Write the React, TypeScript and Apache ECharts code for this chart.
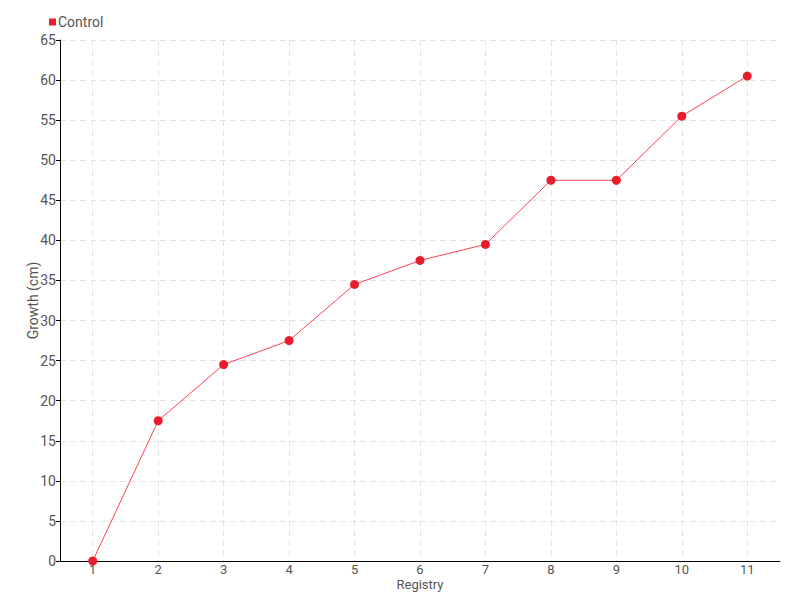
import React, { useEffect, useRef } from "react";
import * as echarts from "echarts";

const categories = ["1", "2", "3", "4", "5", "6", "7", "8", "9", "10", "11"];
const controlValues = [0, 17.5, 24.5, 27.5, 34.5, 37.5, 39.5, 47.5, 47.5, 55.5, 60.5];
const seriesName = "Control";
const xAxisName = "Registry";
const yAxisName = "Growth (cm)";

const FONT = "Roboto, 'Liberation Sans Narrow', sans-serif";

export default function App() {
  const ref = useRef<HTMLDivElement>(null);
  useEffect(() => {
    if (!ref.current) return;
    const chart = echarts.init(ref.current, undefined, { renderer: "svg" });
    chart.setOption({
      animation: false,
      textStyle: { fontFamily: FONT },
      legend: {
        left: 44,
        top: 10,
        itemWidth: 7,
        itemHeight: 7,
        itemGap: 10,
        icon: "rect",
        textStyle: { color: "#555", fontSize: 14, fontFamily: FONT, padding: [0, 0, 0, -3] },
        data: [seriesName],
      },
      grid: { left: 60, right: 20, top: 40, bottom: 39 },
      xAxis: {
        type: "category",
        data: categories,
        boundaryGap: true,
        name: xAxisName,
        nameLocation: "middle",
        nameGap: 17,
        nameMoveOverlap: false,
        nameTextStyle: { color: "#555", fontSize: 13, fontFamily: FONT },
        axisLine: { lineStyle: { color: "#000", width: 1 } },
        axisTick: { alignWithLabel: true, length: 4, lineStyle: { color: "#000" } },
        axisLabel: { color: "#555", fontSize: 13, fontFamily: FONT, margin: 2 },
        splitLine: { show: true, alignWithLabel: true, lineStyle: { color: "#e3e3e3", type: [6, 4] } },
      },
      yAxis: {
        type: "value",
        min: 0,
        max: 65,
        interval: 5,
        name: yAxisName,
        nameLocation: "middle",
        nameGap: 20,
        nameMoveOverlap: false,
        nameTextStyle: { color: "#555", fontSize: 14, fontFamily: FONT },
        axisLine: { show: true, lineStyle: { color: "#000", width: 1 } },
        axisTick: { show: true, length: 4, lineStyle: { color: "#000" } },
        axisLabel: { color: "#555", fontSize: 14, fontFamily: FONT, margin: 4 },
        splitLine: { show: true, lineStyle: { color: "#e3e3e3", type: [6, 4] } },
      },
      series: [
        {
          name: seriesName,
          type: "line",
          data: controlValues,
          symbol: "circle",
          symbolSize: 9,
          lineStyle: { color: "#ff4050", width: 1 },
          itemStyle: { color: "#e81c2a" },
        },
      ],
    });
    return () => chart.dispose();
  }, []);
  return <div ref={ref} style={{ width: 800, height: 600, position: "absolute", left: 0, top: 0 }} />;
}
